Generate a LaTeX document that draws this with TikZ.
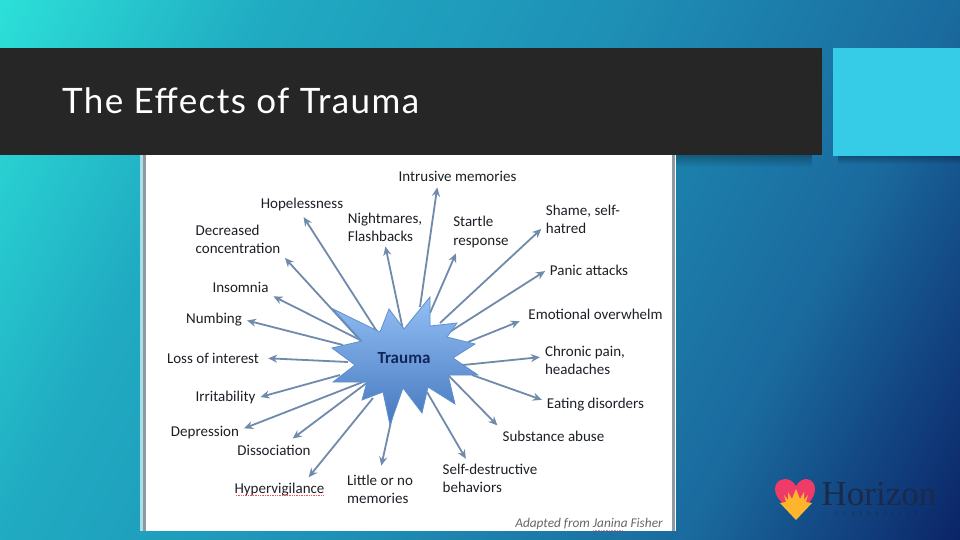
\documentclass[tikz,border=0pt]{standalone}
\usepackage{fontspec}
\setmainfont{Carlito}
\newfontfamily\titlefont[LetterSpace=4]{Lato}
\newfontfamily\logofont{Liberation Serif}
\newfontfamily\logosmall[LetterSpace=95]{Liberation Serif}
\usepackage{tikz}
\usetikzlibrary{arrows.meta}
\usetikzlibrary{fadings}

\definecolor{bgstart}{HTML}{2CE0D8}
\definecolor{bgearly}{HTML}{20ABC2}
\definecolor{bgmid}{HTML}{1E90B6}
\definecolor{bglate}{HTML}{1A6A9E}
\definecolor{bgend}{HTML}{0B2468}
\definecolor{barcolor}{HTML}{262626}
\definecolor{boxcolor}{HTML}{36CBE6}
\definecolor{framecolor}{HTML}{8F9AA0}
\definecolor{frameedge}{HTML}{A8E0E8}
\definecolor{arrowcolor}{HTML}{6F8AAA}
\definecolor{starline}{HTML}{5F90CC}
\definecolor{startop}{HTML}{93BFF5}
\definecolor{starbottom}{HTML}{4578BE}
\definecolor{labelcolor}{HTML}{1C2026}
\definecolor{traumacolor}{HTML}{12265A}
\definecolor{heartred}{HTML}{EE3B68}
\definecolor{heartsun}{HTML}{FDB62B}
\definecolor{logocolor}{HTML}{1B2A4A}

\pgfdeclareverticalshading{slidefade}{100bp}{color(0bp)=(bgend); color(25bp)=(bgend); color(36bp)=(bglate); color(50bp)=(bgmid); color(64bp)=(bgearly); color(75bp)=(bgstart); color(100bp)=(bgstart)}

\tikzset{
  symptom/.style={text=labelcolor,font=\fontsize{15}{18}\selectfont,align=left,inner sep=3pt},
  ray/.style={arrowcolor,line width=1.8pt,shorten >=2pt,-{Stealth[length=9pt,width=8pt]}},
  shadowband/.style={fill=black,opacity=.28,path fading=south}
}

\begin{document}
\begin{tikzpicture}[x=1pt,y=-1pt]
\useasboundingbox (0,0) rectangle (960,540);
\begin{scope}
\clip (0,0) rectangle (960,540);
\shade [shading=slidefade,shading angle=63] (-70,-280) rectangle (1030,820);
\end{scope}

\fill [shadowband] (560,155) rectangle (812,167);
\fill [shadowband] (838,156) rectangle (960,164);
\fill [barcolor] (0,48) rectangle (822,155);
\fill [boxcolor] (833,48) rectangle (960,156);
\node (title) [anchor=west,text=white,font=\titlefont\fontsize{35}{38}\selectfont,inner sep=0pt] at (62,101) {The Effects of Trauma};

\fill [frameedge] (140,155) rectangle (143,531);
\fill [white] (143,155) rectangle (676,531);
\fill [framecolor] (143,155) rectangle (146,531);
\fill [framecolor] (672,155) rectangle (675,531);

\coordinate (hopelessStart) at (378,333);
\coordinate (decreasedStart) at (360,340);
\coordinate (insomniaStart) at (362,341);
\coordinate (numbingStart) at (343,345);
\coordinate (lossStart) at (348,362);
\coordinate (irritabilityStart) at (340,375);
\coordinate (depressionStart) at (368,380);
\coordinate (dissociationStart) at (368,382);
\coordinate (hyperStart) at (373,398);
\coordinate (littleStart) at (392,417);
\coordinate (selfStart) at (427,392);
\coordinate (substanceStart) at (448,375);
\coordinate (eatingStart) at (472,375);
\coordinate (chronicStart) at (463,365);
\coordinate (emotionalStart) at (468,342);
\coordinate (panicStart) at (448,333);
\coordinate (shameStart) at (440,323);
\coordinate (startleStart) at (430,313);
\coordinate (intrusiveStart) at (420,307);
\coordinate (nightmaresStart) at (403,330);

\node (intrusive) [symptom] at (457.5,176) {Intrusive memories};
\node (hopeless) [symptom] at (302,205) {Hopelessness};
\node (nightmares) [symptom] at (385,227) {Nightmares,\\Flashbacks};
\node (startle) [symptom] at (481,232) {Startle\\response};
\node (shame) [symptom] at (583,219) {Shame, self-\\hatred};
\node (decreased) [symptom] at (238,239) {Decreased\\concentration};
\node (panic) [symptom] at (589,270) {Panic attacks};
\node (insomnia) [symptom] at (240.5,287) {Insomnia};
\node (numbing) [symptom] at (214,320) {Numbing};
\node (emotional) [symptom] at (595.5,314) {Emotional overwhelm};
\node (chronic) [symptom] at (585,360) {Chronic pain,\\headaches};
\node (loss) [symptom] at (213,358) {Loss of interest};
\node (irritability) [symptom] at (225.5,397.5) {Irritability};
\node (eating) [symptom] at (595.5,405) {Eating disorders};
\node (depression) [symptom] at (205,433) {Depression};
\node (substance) [symptom] at (553.5,436) {Substance abuse};
\node (dissociation) [symptom] at (274,450) {Dissociation};
\node (self) [symptom] at (490,478) {Self-destructive\\behaviors};
\node (little) [symptom] at (380,489) {Little or no\\memories};
\node (hyper) [symptom] at (279.5,490) {Hypervigilance};
\node (adapted) [text=black!60,font=\fontsize{13.3}{15}\selectfont\itshape,inner sep=0pt] at (589,524) {Adapted from Janina Fisher};

\draw [red!70,densely dotted,line width=.7pt] (236,495) -- (323,495);
\draw [red!50,densely dotted,line width=.6pt] (593,530) -- (622,530);

\draw [ray,shorten >=3pt] (hopelessStart) -- (hopeless.south);
\draw [ray] (decreasedStart) -- (decreased.south east);
\draw [ray] (insomniaStart) -- (insomnia.south east);
\draw [ray] (numbingStart) -- (numbing.east);
\draw [ray] (nightmaresStart) -- (nightmares.south);
\draw [ray,shorten >=3pt] (intrusiveStart) -- (intrusive.203);
\draw [ray,shorten >=3pt] (startleStart) -- (startle.218);
\draw [ray] (shameStart) -- (shame.192);
\draw [ray] (panicStart) -- (panic.west);
\draw [ray,shorten >=6pt] (emotionalStart) -- (emotional.184);
\draw [ray] (chronicStart) -- (chronic.176);
\draw [ray] (eatingStart) -- (eating.175);
\draw [ray,shorten >=3pt] (substanceStart) -- (substance.north west);
\draw [ray] (selfStart) -- (self.143);
\draw [ray,shorten >=6pt] (littleStart) -- (little.north);
\draw [ray,shorten >=4pt] (hyperStart) -- (hyper.20);
\draw [ray,shorten >=5pt] (dissociationStart) -- (dissociation.30);
\draw [ray] (depressionStart) -- (depression.6);
\draw [ray] (irritabilityStart) -- (irritability.east);
\draw [ray,shorten >=6pt] (lossStart) -- (loss.east);

\draw [starline,line width=.8pt,top color=startop,bottom color=starbottom]
  (333,309) -- (380,332) -- (389,309) -- (404,329) -- (430,297) -- (430,326)
  -- (457,323) -- (447,337) -- (475,344) -- (453,358) -- (478,375) -- (448,375)
  -- (455,404) -- (428,387) -- (422,413) -- (403,388) -- (390,425) -- (383,392)
  -- (362,400) -- (367,382) -- (333,382) -- (355,365) -- (332,348) -- (362,341) -- cycle;
\node (trauma) [text=traumacolor,font=\fontsize{17}{20}\selectfont\bfseries,inner sep=0pt] at (404,358) {Trauma};

\fill [heartred] (796,519) .. controls (786,505) and (775,499) .. (775,489)
  .. controls (775,478) and (790,475) .. (796,486)
  .. controls (802,475) and (815,478) .. (815,489)
  .. controls (815,499) and (806,505) .. (796,519) -- cycle;
\fill [heartsun] (796,520) -- (780,503) -- (786,502) -- (784,495) -- (788,500) -- (788,492) -- (792,499) -- (796,489)
  -- (800,499) -- (804,492) -- (804,500) -- (808,495) -- (806,502) -- (812,503) -- cycle;
\node (horizon) [text=logocolor,font=\logofont\fontsize{35}{36}\selectfont,inner sep=0pt] at (879,494) {Horizon};
\node (corporations) [text=logocolor,font=\logosmall\fontsize{5}{6}\selectfont,inner sep=0pt] at (880,514) {CORPORATIONS};
\end{tikzpicture}
\end{document}
